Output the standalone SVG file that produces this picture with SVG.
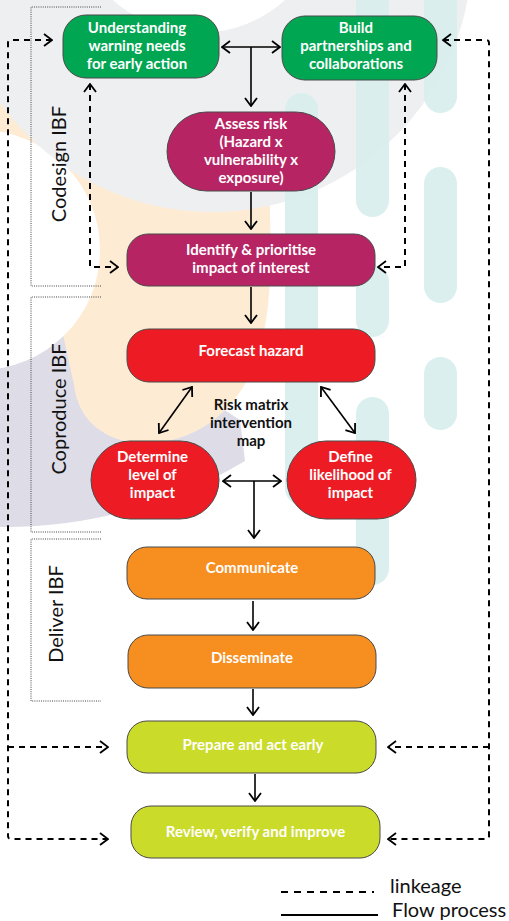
<svg xmlns="http://www.w3.org/2000/svg" width="509" height="921" viewBox="0 0 509 921">
<defs>
<style>
.bx{stroke:#4a4a4a;stroke-width:1}
.g{fill:#00a651}.m{fill:#b72463}.r{fill:#ed1c24}.o{fill:#f68e20}.y{fill:#cadb2a}
.t{font-family:Lato,"Open Sans",sans-serif;font-weight:700;font-size:15px;fill:#fff;text-anchor:middle}
.tk{font-family:Lato,"Open Sans",sans-serif;font-weight:700;font-size:15px;fill:#111;text-anchor:middle}
.ph{font-family:Lato,"Open Sans",sans-serif;font-size:20px;fill:#111;text-anchor:middle}
.lg{font-family:Lato,"Open Sans",sans-serif;font-size:20px;fill:#111}
.br{fill:none;stroke:#444;stroke-width:1;stroke-dasharray:1 1.2}
.sol{fill:none;stroke:#000;stroke-width:1.6}
.das{fill:none;stroke:#000;stroke-width:2;stroke-dasharray:6 5}
.st{fill:#d7eded;opacity:0.9}
</style>
<marker id="ah" viewBox="0 0 10 14" refX="9" refY="7" markerWidth="10" markerHeight="14" markerUnits="userSpaceOnUse" orient="auto-start-reverse">
<path d="M1,1 L9,7 L1,13" fill="none" stroke="#000" stroke-width="1.8"/>
</marker>
</defs>

<g id="background">
<rect x="0" y="0" width="509" height="921" fill="#fff"/>
<path d="M-5,330 L100,330 L240,420 L245,461 A468,468 0 0 1 -5,527 Z" fill="#dddce7"/>
<path d="M-5,90 L268,150 C272,250 272,300 262,340 C250,395 210,440 150,443 C105,445 78,420 74,385 L62,330 L-5,260 Z" fill="#fdebd4"/>
<circle cx="-20" cy="250" r="120" fill="#fff"/>
<circle cx="212" cy="-48" r="260" fill="#eeeff1"/>
<circle cx="199" cy="-96" r="129" fill="#fff"/>
<rect class="st" x="285" y="93" width="33" height="412" rx="16.5"/>
<rect class="st" x="356" y="-30" width="33" height="247" rx="16.5"/>
<rect class="st" x="356" y="265" width="33" height="72" rx="16.5"/>
<rect class="st" x="356" y="397" width="33" height="188" rx="16.5"/>
<rect class="st" x="424" y="-30" width="33" height="143" rx="16.5"/>
<rect class="st" x="424" y="167" width="33" height="136" rx="16.5"/>
<rect class="st" x="424" y="357" width="33" height="73" rx="16.5"/>
</g>

<g id="phases">
<path class="br" d="M101,7 H31 V286 H101"/>
<path class="br" d="M101,297 H31 V532 H101"/>
<path class="br" d="M101,539 H31 V701 H101"/>
<text class="ph" transform="translate(66,164) rotate(-90)">Codesign IBF</text>
<text class="ph" transform="translate(66,409) rotate(-90)">Coproduce IBF</text>
<text class="ph" transform="translate(63,614) rotate(-90)">Deliver IBF</text>
</g>

<g id="connectors">
<path class="sol" d="M222,47 H280" marker-start="url(#ah)" marker-end="url(#ah)"/>
<path class="sol" d="M251,47 V106" marker-end="url(#ah)"/>
<path class="sol" d="M251,192 V229" marker-end="url(#ah)"/>
<path class="sol" d="M251,287 V323" marker-end="url(#ah)"/>
<path class="sol" d="M192,387 L159,433" marker-start="url(#ah)" marker-end="url(#ah)"/>
<path class="sol" d="M321,387 L355,433" marker-start="url(#ah)" marker-end="url(#ah)"/>
<path class="sol" d="M223,481 H281" marker-start="url(#ah)" marker-end="url(#ah)"/>
<path class="sol" d="M254,481 V538" marker-end="url(#ah)"/>
<path class="sol" d="M253,601 V630" marker-end="url(#ah)"/>
<path class="sol" d="M253,689 V715" marker-end="url(#ah)"/>
<path class="sol" d="M255,774 V801" marker-end="url(#ah)"/>
<path class="das" d="M52,40 H11 Q8,40 8,43 V836 Q8,839 11,839 H108" marker-start="url(#ah)" marker-end="url(#ah)"/>
<path class="das" d="M8,747 H108" marker-end="url(#ah)"/>
<path class="das" d="M443,40 H486 Q489,40 489,43 V836 Q489,839 486,839 H388" marker-start="url(#ah)" marker-end="url(#ah)"/>
<path class="das" d="M489,747 H388" marker-end="url(#ah)"/>
<path class="das" d="M90,84 V267 H118" marker-start="url(#ah)" marker-end="url(#ah)"/>
<path class="das" d="M405,84 V267 H378" marker-start="url(#ah)" marker-end="url(#ah)"/>
</g>

<g id="n-understanding">
<rect class="bx g" x="63" y="15" width="156" height="63" rx="23"/>
<text class="t" x="137" y="33">Understanding</text>
<text class="t" x="137" y="51">warning needs</text>
<text class="t" x="137" y="69">for early action</text>
</g>
<g id="n-build">
<rect class="bx g" x="282" y="16" width="155" height="64" rx="23"/>
<text class="t" x="356" y="33">Build</text>
<text class="t" x="356" y="51">partnerships and</text>
<text class="t" x="356" y="69">collaborations</text>
</g>
<g id="n-assess">
<rect class="bx m" x="167" y="112" width="168" height="79" rx="39.5"/>
<text class="t" x="251" y="129">Assess risk</text>
<text class="t" x="251" y="147">(Hazard x</text>
<text class="t" x="251" y="165">vulnerability x</text>
<text class="t" x="251" y="183">exposure)</text>
</g>
<g id="n-identify">
<rect class="bx m" x="127" y="234" width="248" height="52" rx="21"/>
<text class="t" x="251" y="255">Identify &amp; prioritise</text>
<text class="t" x="251" y="273">impact of interest</text>
</g>
<g id="n-forecast">
<rect class="bx r" x="127" y="329" width="248" height="53" rx="22"/>
<text class="t" x="251" y="356">Forecast hazard</text>
</g>
<g id="n-riskmatrix">
<text class="tk" x="251" y="410">Risk matrix</text>
<text class="tk" x="251" y="428">intervention</text>
<text class="tk" x="251" y="446">map</text>
</g>
<g id="n-determine">
<rect class="bx r" x="91" y="441" width="128" height="78" rx="39"/>
<text class="t" x="152.5" y="462">Determine</text>
<text class="t" x="152.5" y="480">level of</text>
<text class="t" x="152.5" y="498">impact</text>
</g>
<g id="n-define">
<rect class="bx r" x="287" y="441" width="129" height="78" rx="39"/>
<text class="t" x="350.5" y="462">Define</text>
<text class="t" x="350.5" y="480">likelihood of</text>
<text class="t" x="350.5" y="498">impact</text>
</g>
<g id="n-communicate">
<rect class="bx o" x="127" y="547" width="248" height="52" rx="20"/>
<text class="t" x="252" y="573">Communicate</text>
</g>
<g id="n-disseminate">
<rect class="bx o" x="128" y="635" width="248" height="53" rx="20"/>
<text class="t" x="252" y="663">Disseminate</text>
</g>
<g id="n-prepare">
<rect class="bx y" x="127" y="721" width="249" height="52" rx="20"/>
<text class="t" x="253" y="750">Prepare and act early</text>
</g>
<g id="n-review">
<rect class="bx y" x="131" y="806" width="249" height="52" rx="20"/>
<text class="t" x="255.5" y="837">Review, verify and improve</text>
</g>

<g id="legend">
<path d="M281,892 H374" fill="none" stroke="#000" stroke-width="2" stroke-dasharray="7 6"/>
<path d="M281,915 H378" fill="none" stroke="#000" stroke-width="2.2"/>
<text class="lg" x="390" y="893">linkeage</text>
<text class="lg" x="392" y="917">Flow process</text>
</g>
</svg>
